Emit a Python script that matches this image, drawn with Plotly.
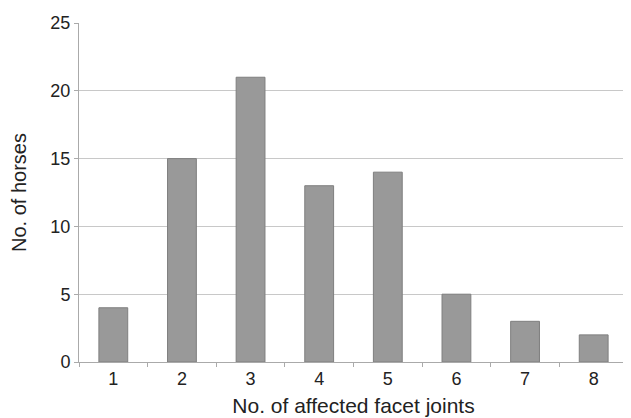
import plotly.graph_objects as go

categories = ["1", "2", "3", "4", "5", "6", "7", "8"]
horses = [4, 15, 21, 13, 14, 5, 3, 2]
y_ticks = [0, 5, 10, 15, 20, 25]

fig = go.Figure(go.Bar(
    x=categories, y=horses,
    marker=dict(color="#999999", line=dict(color="#7f7f7f", width=1)),
))
font = dict(family="Liberation Sans, Arial, sans-serif", size=18, color="#222222")
fig.update_layout(
    width=623, height=410,
    margin=dict(l=71, r=3, t=15, b=56),
    paper_bgcolor="white", plot_bgcolor="white",
    bargap=0.58, showlegend=False, font=font,
    xaxis=dict(
        automargin=False,
        title=dict(text="No. of affected facet joints", font=dict(size=21), standoff=10),
        tickson="boundaries", ticks="outside", ticklen=4, tickcolor="#aaaaaa",
        showline=True, linecolor="#aaaaaa", linewidth=1, showgrid=False,
        tickfont=dict(size=18),
    ),
    yaxis=dict(
        automargin=False,
        title=dict(text="No. of horses", font=dict(size=20), standoff=18),
        range=[0, 25], tickvals=y_ticks, ticks="outside", ticklen=4,
        tickcolor="#aaaaaa", showline=True, linecolor="#aaaaaa", linewidth=1,
        mirror=True, showgrid=True, gridcolor="#c8c8c8", gridwidth=1,
        zeroline=False, tickfont=dict(size=18),
    ),
)
fig.write_html("out.html")
